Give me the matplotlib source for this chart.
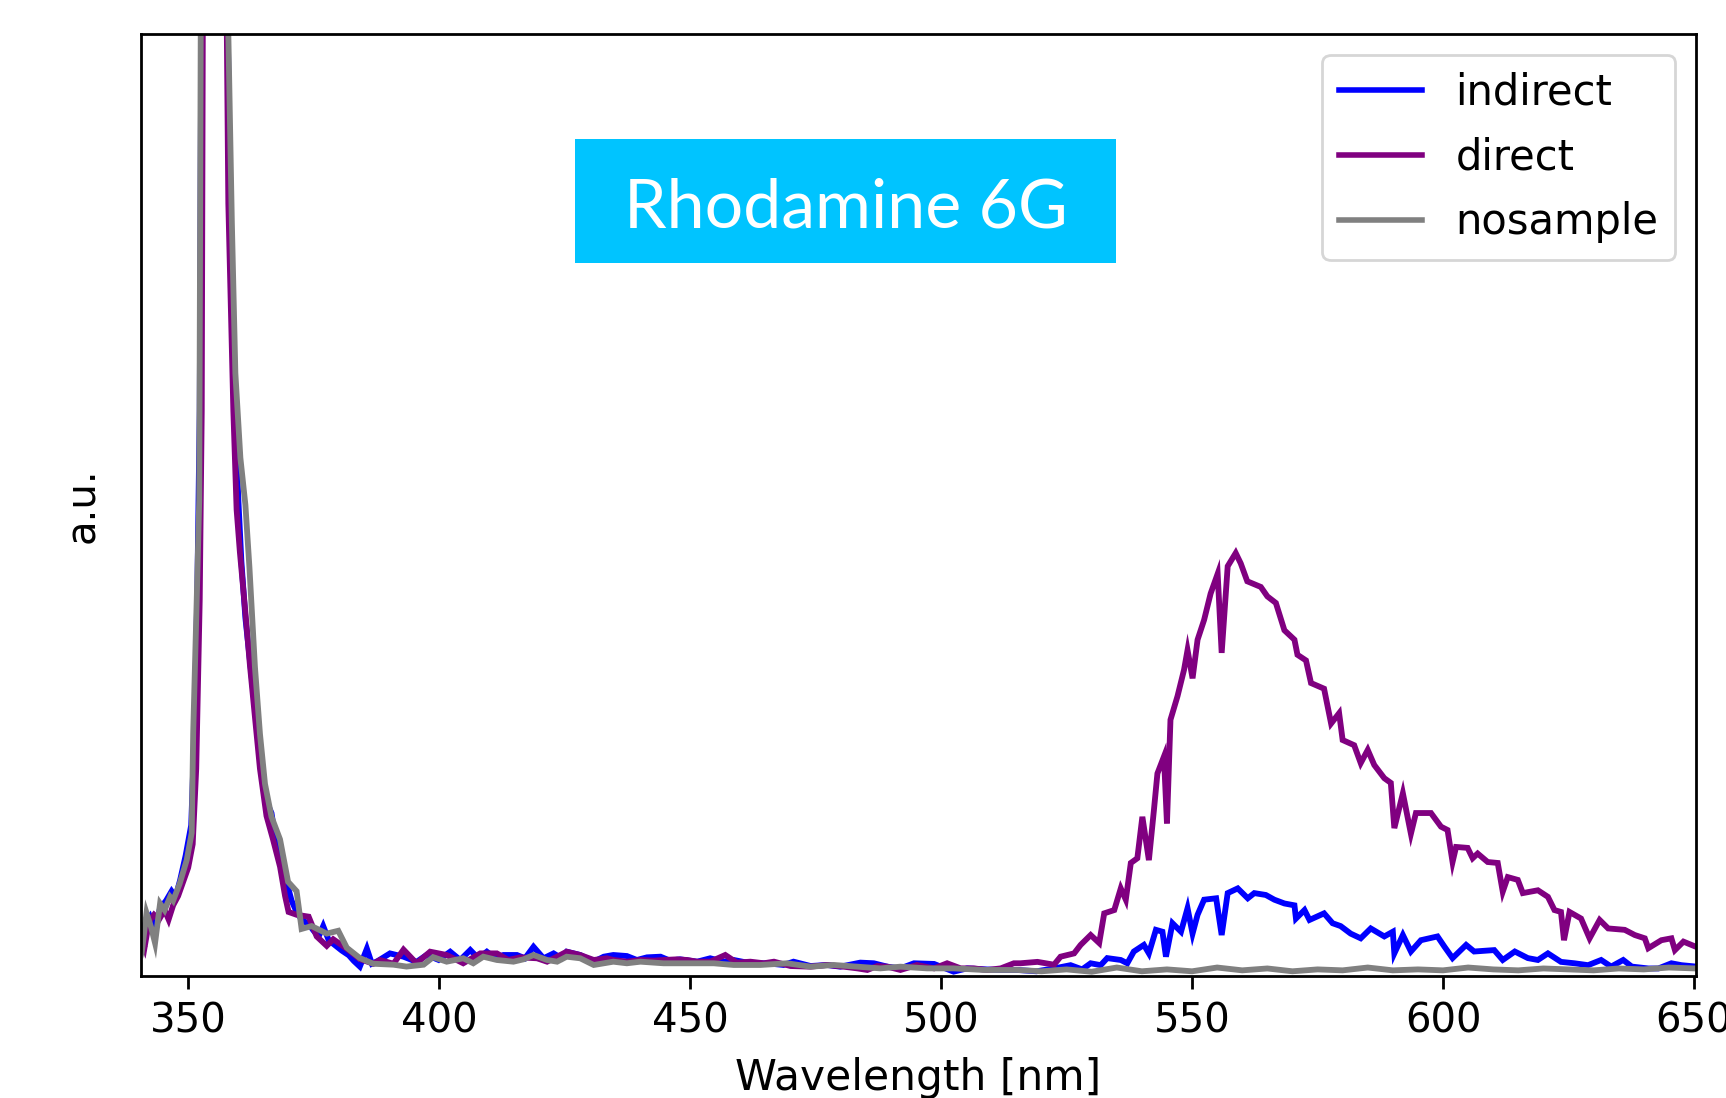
import matplotlib
matplotlib.use("Agg")
import matplotlib.pyplot as plt
from matplotlib.patches import Rectangle

# ---------------- data (arbitrary units) ----------------
indirect_wl = [340.6, 341.5, 342.4, 343.4, 344.4, 345.6, 346.7, 347.5, 348.4, 349.5,
               350.6, 351.2, 351.8, 352.3, 352.6, 355.2, 357.9, 358.4, 359.1, 360.0,
               360.6, 361.4, 362.6, 363.6, 364.7, 365.6, 366.6, 367.4, 368.4, 369.6,
               370.6, 371.6, 372.6, 374.0, 375.0, 376.0, 376.9, 378.0, 379.4, 380.6,
               382.0, 383.0, 384.2, 385.6, 386.6, 387.8,
               390.2, 392.9, 395.5, 397.5, 399.9, 402.2, 404.2, 406.2, 407.8, 409.5,
               411.2, 412.8, 415.5, 417.1, 418.8, 420.8, 422.8, 424.4, 425.4, 428.1,
               430.8, 432.8, 434.7, 437.4, 439.4, 441.4, 444.1, 446.0, 448.0, 451.4,
               454.0, 456.7, 458.7, 462.0, 465.3, 468.6, 470.6, 474.0, 477.3, 479.9,
               483.9, 486.6, 489.3, 491.9, 494.6, 498.6, 502.5, 505.2, 508.5, 511.9,
               515.2, 519.0, 522.5, 525.8, 528.1, 529.8, 531.8, 533.1, 535.8, 537.1,
               538.4, 540.4, 541.4, 542.8, 544.1, 544.8, 546.1, 547.8, 549.1, 550.1,
               551.1, 552.4, 554.8, 555.9, 557.1, 559.1, 561.1, 562.4, 564.7, 566.4,
               568.4, 570.4, 570.7, 572.4, 573.4, 576.3, 578.0, 579.6, 581.6, 583.6,
               585.6, 588.3, 590.0, 590.3, 592.0, 593.6, 595.6, 598.9, 600.3, 601.9,
               604.6, 606.2, 610.2, 611.9, 614.3, 616.9, 618.9, 620.9, 623.5, 626.2,
               628.9, 631.5, 633.5, 635.9, 637.6, 640.9, 642.9, 645.5, 647.5, 650.4]
indirect_val = [3.0, 5.6, 6.3, 5.0, 7.2, 8.0, 9.0, 8.4, 10.2, 12.8,
                16.0, 25.0, 40.0, 60.0, 100.0, 420.0, 100.0, 80.0, 62.0, 50.5,
                44.0, 38.0, 32.0, 27.0, 22.0, 18.5, 17.3, 14.5, 12.0, 10.0,
                8.0, 6.8, 6.0, 5.5, 4.8, 4.2, 5.3, 3.8, 3.2, 2.7,
                2.2, 1.6, 1.0, 2.9, 1.3, 1.6,
                2.4, 2.05, 1.5, 2.23, 1.7, 2.58, 1.7, 2.76, 1.88, 2.58,
                1.88, 2.23, 2.23, 1.88, 3.1, 1.88, 2.4, 1.88, 2.58, 2.23,
                1.52, 2.05, 2.23, 2.12, 1.7, 1.98, 2.05, 1.63, 1.77, 1.52,
                1.88, 1.52, 1.7, 1.35, 1.35, 1.17, 1.52, 1.06, 1.17, 0.99,
                1.42, 1.35, 0.99, 0.81, 1.35, 1.28, 0.46, 0.81, 0.71, 0.64,
                0.64, 0.5, 0.8, 1.15, 0.7, 1.35, 1.15, 1.9, 1.7, 1.35,
                2.6, 3.3, 2.4, 4.9, 4.7, 2.05, 5.6, 4.7, 7.2, 4.5,
                6.5, 8.1, 8.25, 4.35, 8.8, 9.3, 8.25, 8.8, 8.6, 8.1,
                7.7, 7.5, 6.1, 7.0, 5.95, 6.65, 5.6, 5.3, 4.5, 4.0,
                5.05, 4.2, 4.7, 2.4, 4.35, 2.6, 3.8, 4.2, 3.1, 1.9,
                3.3, 2.6, 2.75, 1.7, 2.6, 1.9, 1.7, 2.4, 1.5, 1.35,
                1.15, 1.7, 1.0, 1.7, 1.0, 0.8, 0.8, 1.35, 1.15, 1.0]

direct_wl = [340.6, 341.3, 342.2, 343.2, 344.2, 345.3, 346.1, 347.0, 348.0, 349.0,
             350.0, 350.9, 351.6, 352.3, 352.7, 352.9, 355.4, 357.7, 358.0, 359.0,
             359.65, 360.3, 361.5, 362.3, 363.4, 364.3, 365.6, 366.9, 368.3, 369.3,
             370.0, 371.6, 374.0, 375.6, 377.6, 378.9, 381.6, 384.2, 386.9, 388.2,
             390.9, 392.9, 395.5, 398.2, 401.5, 404.8, 408.2, 411.5, 413.8, 416.1,
             419.5, 421.5, 423.5, 425.4, 428.1, 430.8, 433.4, 434.7, 437.4, 440.1,
             442.7, 444.7, 447.4, 449.4, 451.4, 454.0, 457.0, 459.3, 462.0, 464.7,
             466.7, 470.0, 474.0, 477.3, 480.6, 483.3, 485.3, 487.3, 489.3, 491.9,
             495.2, 498.6, 501.2, 503.9, 506.5, 509.2, 511.9, 514.5, 515.8, 519.2,
             522.5, 523.8, 526.5, 527.8, 529.8, 531.5, 532.5, 534.5, 535.8, 536.8,
             537.8, 539.1, 540.1, 541.4, 542.4, 543.1, 544.4, 545.0, 545.7, 547.1,
             548.4, 549.1, 550.1, 551.1, 552.4, 553.7, 555.1, 555.9, 557.1, 558.7,
             559.7, 561.0, 563.7, 565.0, 566.7, 568.4, 570.4, 571.0, 572.7, 573.7,
             576.3, 577.7, 579.3, 580.0, 582.3, 583.6, 585.0, 586.3, 588.3, 589.6,
             590.3, 592.0, 593.6, 594.6, 597.6, 599.6, 600.9, 601.9, 602.6, 604.9,
             605.9, 606.9, 608.9, 610.9, 611.9, 612.9, 614.9, 615.9, 618.9, 620.9,
             622.2, 623.5, 624.1, 625.2, 627.5, 629.2, 631.2, 632.9, 636.2, 638.2,
             640.2, 640.9, 643.5, 645.5, 646.2, 647.9, 650.4]
direct_val = [4.0, 3.0, 5.8, 6.5, 6.0, 7.0, 6.0, 7.5, 8.5, 10.0,
              11.5, 14.0, 22.0, 40.0, 60.0, 100.0, 430.0, 100.0, 82.0, 60.0,
              49.5, 45.0, 38.0, 33.0, 27.0, 22.0, 17.0, 14.5, 11.6, 8.5,
              6.8, 6.5, 6.3, 4.2, 3.2, 3.9, 2.9, 1.8, 1.3, 1.7,
              1.3, 2.8, 1.35, 2.58, 2.23, 1.35, 2.4, 2.4, 1.7, 1.98,
              1.88, 1.52, 2.05, 2.58, 2.23, 1.7, 1.88, 1.7, 1.52, 1.7,
              1.63, 1.7, 1.77, 1.7, 1.52, 1.52, 2.23, 1.42, 1.52, 1.35,
              1.52, 1.06, 0.99, 1.17, 0.99, 0.81, 0.64, 1.06, 0.99, 0.64,
              1.17, 0.81, 1.35, 0.81, 0.81, 0.64, 0.81, 1.35, 1.35, 1.5,
              1.2, 2.05, 2.4, 3.3, 4.35, 3.5, 6.65, 7.0, 9.3, 8.1,
              12.0, 12.5, 16.9, 12.3, 17.6, 21.5, 23.3, 16.2, 27.2, 29.7,
              32.5, 34.6, 31.6, 35.7, 37.8, 40.6, 42.7, 34.3, 43.5, 44.9,
              43.8, 41.9, 41.3, 40.3, 39.6, 36.7, 35.7, 34.1, 33.5, 31.1,
              30.5, 26.8, 27.9, 25.05, 24.5, 22.6, 24.0, 22.4, 21.0, 20.5,
              15.7, 19.4, 15.1, 17.3, 17.3, 15.85, 15.5, 12.1, 13.7, 13.6,
              12.5, 13.0, 12.1, 12.0, 8.95, 10.5, 10.2, 8.8, 9.1, 8.4,
              7.0, 6.8, 3.8, 6.8, 6.1, 4.0, 5.95, 5.05, 4.9, 4.35,
              4.0, 2.95, 3.8, 4.0, 2.75, 3.65, 3.1]

nosample_wl = [340.6, 341.0, 341.7, 342.6, 343.4, 344.4, 345.3, 346.4, 347.0, 348.3,
               349.7, 350.7, 351.0, 351.7, 352.2, 352.5, 355.3, 358.0, 358.7, 359.4,
               360.4, 361.4, 362.2, 363.3, 364.3, 365.3, 366.6, 368.3, 369.9, 371.6,
               372.6, 374.6, 377.6, 379.9, 381.6, 384.2, 386.9, 390.9, 393.5, 396.9,
               398.8, 401.5, 404.8, 406.8, 408.8, 411.5, 414.8, 416.8, 418.8, 421.5,
               423.5, 425.4, 428.1, 430.8, 434.7, 437.4, 440.1, 444.7, 448.0, 451.4,
               454.7, 458.7, 464.0, 469.3, 474.0, 478.6, 483.3, 487.9, 491.9, 497.2,
               502.5, 508.5, 515.2, 520.0, 525.0, 530.0, 535.0, 540.0, 545.0, 550.0,
               555.0, 560.0, 565.0, 570.0, 575.0, 580.0, 585.0, 590.0, 595.0, 600.0,
               605.0, 610.0, 615.0, 620.0, 625.0, 630.0, 635.0, 640.0, 645.0, 650.4]
nosample_val = [4.5, 3.6, 6.7, 5.2, 3.5, 7.7, 7.0, 8.4, 8.0, 9.8,
                12.3, 15.2, 25.8, 39.9, 50.5, 100.0, 420.0, 100.0, 80.0, 64.0,
                55.0, 50.0, 43.4, 32.8, 25.7, 20.4, 16.9, 14.5, 10.0, 9.0,
                5.0, 5.3, 4.5, 4.8, 3.0, 1.9, 1.3, 1.2, 1.0, 1.2,
                2.0, 1.52, 1.88, 1.35, 2.05, 1.7, 1.52, 1.77, 2.23, 1.7,
                1.52, 2.05, 1.88, 1.17, 1.52, 1.35, 1.52, 1.35, 1.35, 1.35,
                1.35, 1.17, 1.17, 1.35, 0.99, 1.17, 0.99, 0.81, 0.99, 0.81,
                0.81, 0.64, 0.64, 0.5, 0.7, 0.45, 0.9, 0.5, 0.7, 0.5,
                0.9, 0.6, 0.8, 0.5, 0.7, 0.6, 0.9, 0.6, 0.7, 0.6,
                0.9, 0.7, 0.6, 0.8, 0.7, 0.6, 0.8, 0.7, 0.9, 0.8]

series_labels = ["indirect", "direct", "nosample"]
series_colors = ["blue", "purple", "gray"]
x_ticks = [350, 400, 450, 500, 550, 600, 650]
title_text = "Rhodamine 6G"

# ---------------- figure ----------------
W, H, DPI = 1726, 1098, 100
fig = plt.figure(figsize=(W / DPI, H / DPI), dpi=DPI)
ax = fig.add_axes([141 / W, 1 - 976 / H, (1696 - 141) / W, (976 - 34) / H])

lw = 4.2
for wl, val, lab, col in zip([indirect_wl, direct_wl, nosample_wl],
                             [indirect_val, direct_val, nosample_val],
                             series_labels, series_colors):
    ax.plot(wl, val, color=col, lw=lw, label=lab, solid_joinstyle="miter")

ax.set_xlim(340.6, 650.4)
ax.set_ylim(0, 100)
ax.set_xticks(x_ticks)
ax.set_xticklabels([str(t) for t in x_ticks])
ax.set_yticks([])
ax.tick_params(axis="x", length=9.5, width=2.0, labelsize=29, pad=9)
for s in ax.spines.values():
    s.set_linewidth(2.0)

ax.set_xlabel("Wavelength [nm]", fontsize=30.5, labelpad=11)
ax.set_ylabel("a.u.", fontsize=29, labelpad=28)

leg = ax.legend(loc="upper right", fontsize=30, handlelength=2.0,
                borderaxespad=0.5, labelspacing=0.55)
leg.get_frame().set_linewidth(2.0)
for h in leg.get_lines():
    h.set_linewidth(4.0)

# title box (axes-fraction placement)
ax.add_patch(Rectangle((0.2788, 0.7568), 0.6271 - 0.2788, 0.8889 - 0.7568,
                       transform=ax.transAxes, facecolor="#00C4FF",
                       edgecolor="none", zorder=5))
t = ax.text(0.4534, 0.7942, title_text, transform=ax.transAxes, ha="center",
            va="baseline", color="white", fontsize=50, family="Lato", zorder=6)
fig.canvas.draw()
bb = t.get_window_extent()
t.set_fontsize(50 * 444.0 / bb.width)

fig.savefig("out.png", dpi=DPI)
